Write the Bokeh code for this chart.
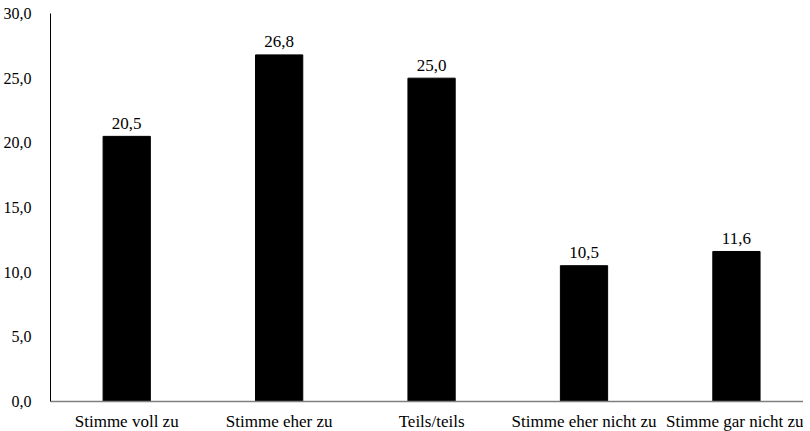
from bokeh.plotting import figure
from bokeh.models import ColumnDataSource, FixedTicker, Range1d, CustomJS
from bokeh.core.properties import value
from bokeh.document import Document
from bokeh.events import DocumentReady
from bokeh.embed import file_html
from bokeh.resources import INLINE

categories = ["Stimme voll zu", "Stimme eher zu", "Teils/teils", "Stimme eher nicht zu", "Stimme gar nicht zu"]
values = [20.5, 26.8, 25.0, 10.5, 11.6]
y_ticks = [0, 5, 10, 15, 20, 25, 30]
y_tick_labels = ["0,0", "5,0", "10,0", "15,0", "20,0", "25,0", "30,0"]

pos = [i + 0.5 for i in range(len(categories))]
labels = [f"{v:.1f}".replace(".", ",") for v in values]
src = ColumnDataSource(dict(x=pos, val=values, lab=labels))

FONT = "'Liberation Serif'"

p = figure(x_range=Range1d(0, 4.94), y_range=Range1d(0, 30),
           width=802, height=423, frame_width=753, frame_height=388,
           min_border_left=49, min_border_top=13, min_border_right=0, min_border_bottom=22,
           output_backend="svg", toolbar_location=None)

p.vbar(x="x", top="val", width=0.31, source=src, fill_color="black", line_color="black")
p.text(x="x", y="val", text="lab", source=src, text_align="center", text_baseline="alphabetic",
       y_offset=-13, text_font=value(FONT), text_font_size="17px", text_color="black")

p.xgrid.visible = False
p.ygrid.visible = False
p.outline_line_color = None
p.background_fill_color = "white"
p.border_fill_color = "white"

p.yaxis.ticker = FixedTicker(ticks=y_ticks)
p.yaxis.major_label_overrides = {t: l for t, l in zip(y_ticks, y_tick_labels)}
p.yaxis.major_tick_line_color = None
p.yaxis.minor_tick_line_color = None
p.yaxis.axis_line_color = "black"
p.yaxis.axis_line_width = 1
p.yaxis.major_label_text_font = FONT
p.yaxis.major_label_text_font_size = "16px"
p.yaxis.major_label_text_color = "black"
p.yaxis.major_label_standoff = 13

p.xaxis.ticker = FixedTicker(ticks=pos)
p.xaxis.major_label_overrides = {x: c for x, c in zip(pos, categories)}
p.xaxis.major_tick_line_color = None
p.xaxis.minor_tick_line_color = None
p.xaxis.axis_line_color = "#808080"
p.xaxis.axis_line_width = 1.5
p.xaxis.major_label_text_font = FONT
p.xaxis.major_label_text_font_size = "17px"
p.xaxis.major_label_text_color = "black"
p.xaxis.major_label_standoff = 4

# force a relayout / full re-render after the page is ready so fonts are applied
cb = CustomJS(args=dict(p=p), code="""
const relayout = () => {
  p.min_border_left = 48;
  setTimeout(() => { p.min_border_left = 49; }, 20);
};
setTimeout(relayout, 0);
if (document.fonts && document.fonts.ready) { document.fonts.ready.then(() => setTimeout(relayout, 50)); }
""")
doc = Document()
doc.add_root(p)
doc.js_on_event(DocumentReady, cb)

open("out.html", "w").write(file_html(p, INLINE))
